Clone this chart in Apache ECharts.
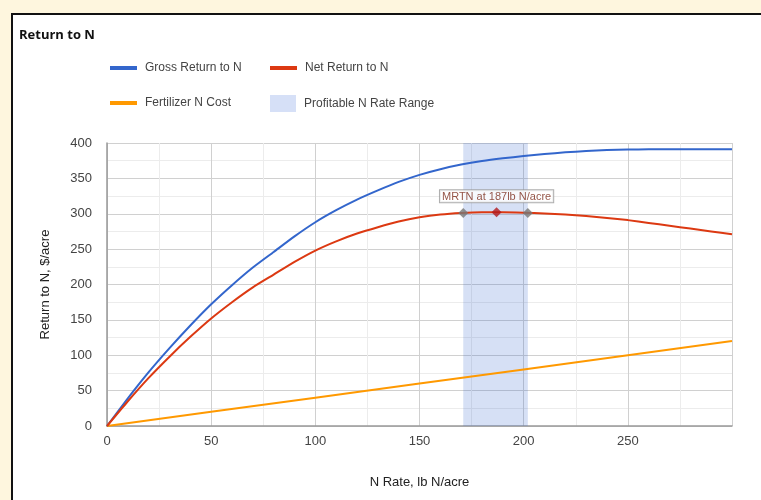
<!DOCTYPE html>
<html>
<head>
<meta charset="utf-8">
<script src="https://cdn.jsdelivr.net/npm/echarts@6/dist/echarts.min.js"></script>
<style>
  html, body { margin: 0; padding: 0; width: 761px; height: 500px; overflow: hidden; background: #fef6de; }
  #panel { position: absolute; left: 11px; top: 13px; width: 800px; height: 540px; background: #ffffff; border-left: 2px solid #111; border-top: 2px solid #111; }
  #chart { position: absolute; left: 0; top: 0; width: 761px; height: 500px; }
</style>
</head>
<body>
<div id="panel"></div>
<div id="chart"></div>
<script>
// ---- data ----
const nRate = [0, 10, 20, 30, 40, 50, 60, 70, 80, 90, 100, 110, 120, 130, 140, 150,
               160, 170, 180, 190, 200, 210, 220, 230, 240, 250, 260, 270, 280, 290, 300];
const grossReturn = [0, 39, 76, 110, 142, 172, 199, 224, 246, 268, 288, 305, 320, 333, 345, 355,
                     363, 369.5, 374.5, 378.3, 381.5, 384.4, 386.8, 388.7, 390.1, 390.9, 391, 391, 391, 391, 391];
const netReturn = [0, 35, 68, 98, 126, 152, 175, 196, 214, 232, 248, 261, 272, 281, 289, 295,
                   299, 301.2, 302.2, 302.2, 301.5, 300.4, 298.8, 296.7, 294.1, 291, 287, 283, 279, 275, 271];
const costX = [0, 50, 100, 150, 200, 250, 300];
const costY = [0, 20, 40, 60, 80, 100, 120];
const rangeX = [171, 202];
const rangeY = [301, 301];
const mrtnX = [187];
const mrtnY = [302];
const mrtnLabel = 'MRTN at 187lb N/acre';
const seriesNames = ['Gross Return to N', 'Net Return to N', 'Fertilizer N Cost', 'Profitable N Rate Range'];
const xTicks = [0, 50, 100, 150, 200, 250];
const yTicks = [0, 50, 100, 150, 200, 250, 300, 350, 400];

const zip = (xs, ys) => xs.map((x, i) => [x, ys[i]]);
const chart = echarts.init(document.getElementById('chart'), null, { renderer: 'canvas' });

const lineFont = 'Liberation Sans, Arial, sans-serif';
const legendText = { color: '#444', fontSize: 12, fontFamily: lineFont, padding: [0, 0, 0, 3] };
function legendAt(name, left, top, icon, w, h, color) {
  return {
    show: true, left: left, top: top, orient: 'horizontal', padding: 0,
    itemWidth: w, itemHeight: h, icon: icon, selectedMode: false,
    textStyle: legendText,
    data: [{ name: name, icon: icon, itemStyle: { color: color, borderWidth: 0 }, lineStyle: { width: 0 } }]
  };
}

const option = {
  animation: false,
  backgroundColor: 'transparent',
  title: {
    text: 'Return to N', left: 19, top: 29, padding: 0,
    textStyle: { fontFamily: 'Open Sans, sans-serif', fontWeight: 'bold', fontSize: 13, color: '#111' }
  },
  legend: [
    legendAt(seriesNames[0], 110, 62, 'rect', 27, 4, '#3366cc'),
    legendAt(seriesNames[1], 270, 62, 'rect', 27, 4, '#dc3912'),
    legendAt(seriesNames[2], 110, 97, 'rect', 27, 4, '#ff9900'),
    legendAt(seriesNames[3], 270, 95, 'rect', 26, 17, '#d6e0f7')
  ],
  grid: { left: 107, top: 143, right: 29, bottom: 74, containLabel: false },
  xAxis: {
    type: 'value', min: 0, max: 300, interval: 50,
    name: 'N Rate, lb N/acre', nameLocation: 'middle', nameGap: 50,
    nameTextStyle: { fontFamily: lineFont, fontSize: 13, color: '#222' },
    axisLine: { show: true, lineStyle: { color: '#999', width: 1.5 } },
    axisTick: { show: false },
    axisLabel: { fontFamily: lineFont, fontSize: 13, color: '#444', margin: 9,
      formatter: v => (xTicks.indexOf(v) >= 0 ? String(v) : '') },
    splitLine: { show: true, lineStyle: { color: '#d0d0d0', width: 1 } },
    minorTick: { show: false, splitNumber: 2 },
    minorSplitLine: { show: true, lineStyle: { color: '#ececec', width: 1 } }
  },
  yAxis: {
    type: 'value', min: 0, max: 400, interval: 50,
    name: 'Return to N, $/acre', nameLocation: 'middle', nameGap: 55, nameRotate: 90,
    nameTextStyle: { fontFamily: lineFont, fontSize: 13, color: '#222' },
    axisLine: { show: true, lineStyle: { color: '#999', width: 1.5 } },
    axisTick: { show: false },
    axisLabel: { fontFamily: lineFont, fontSize: 13, color: '#444', margin: 15,
      formatter: v => (yTicks.indexOf(v) >= 0 ? String(v) : '') },
    splitLine: { show: true, lineStyle: { color: '#d0d0d0', width: 1 } },
    minorTick: { show: false, splitNumber: 2 },
    minorSplitLine: { show: true, lineStyle: { color: '#ececec', width: 1 } }
  },
  series: [
    {
      name: seriesNames[3], type: 'line', data: [], z: 1,
      itemStyle: { color: '#d6e0f7' }, lineStyle: { color: '#d6e0f7' },
      markArea: {
        silent: true,
        itemStyle: { color: 'rgba(51,102,204,0.2)', borderWidth: 0 },
        data: [[{ xAxis: rangeX[0] }, { xAxis: rangeX[1] }]]
      }
    },
    {
      name: seriesNames[2], type: 'line', data: zip(costX, costY), showSymbol: false,
      smooth: false, lineStyle: { color: '#ff9900', width: 2 }, itemStyle: { color: '#ff9900' }, z: 3
    },
    {
      name: seriesNames[0], type: 'line', data: zip(nRate, grossReturn), showSymbol: false,
      smooth: 0.2, lineStyle: { color: '#3366cc', width: 2 }, itemStyle: { color: '#3366cc' }, z: 3
    },
    {
      name: seriesNames[1], type: 'line', data: zip(nRate, netReturn), showSymbol: false,
      smooth: 0.2, lineStyle: { color: '#dc3912', width: 2 }, itemStyle: { color: '#dc3912' }, z: 3
    },
    {
      name: 'range-points', type: 'scatter', data: zip(rangeX, rangeY), symbol: 'diamond', symbolSize: 10,
      itemStyle: { color: '#777777' }, z: 5
    },
    {
      name: 'MRTN', type: 'scatter', data: zip(mrtnX, mrtnY), symbol: 'diamond', symbolSize: 10,
      itemStyle: { color: '#b3191b' }, z: 6,
      label: {
        show: true, position: 'top', distance: 5, formatter: mrtnLabel,
        fontFamily: lineFont, fontSize: 11, color: '#7a2a1a',
        backgroundColor: '#ffffff', borderColor: '#9a9a9a', borderWidth: 1, padding: [1, 2, 0, 2]
      }
    }
  ]
};
chart.setOption(option);
</script>
</body>
</html>
